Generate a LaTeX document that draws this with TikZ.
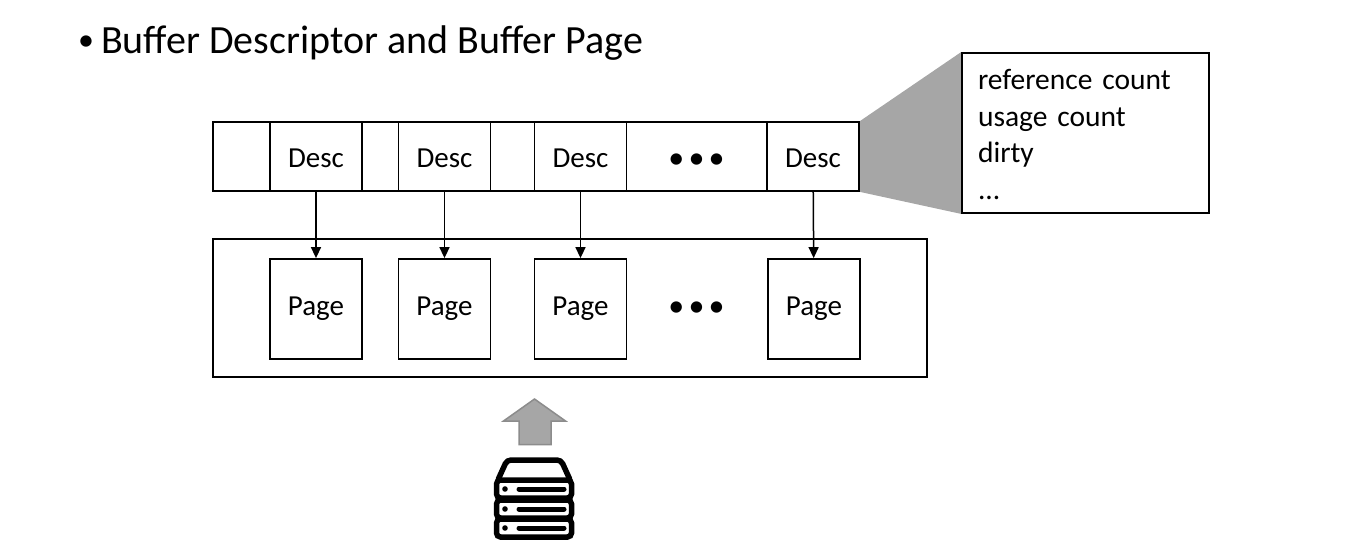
\documentclass[tikz,border=0pt]{standalone}
\usepackage{fontspec}
\setmainfont{Carlito}
\usetikzlibrary{backgrounds, arrows.meta}
\tikzstyle{barbox} = [rectangle, draw=black, line width=1.8pt, inner sep=0pt]
\tikzstyle{descbox} = [rectangle, minimum width=92pt, minimum height=69pt, inner sep=0pt, text centered, text height=22pt, text depth=0pt, draw=black, line width=1.8pt, fill=white, font=\fontsize{29}{34}\selectfont]
\tikzstyle{pagebox} = [descbox, minimum height=100pt, text height=18.5pt, text depth=5.5pt]
\tikzstyle{dotsnode} = [inner sep=0pt, font=\fontsize{32}{36}\selectfont]
\tikzstyle{arrow} = [line width=1.5pt,-{Stealth[length=11pt,width=10pt,inset=0pt]}]
\tikzstyle{rack} = [draw=black, line width=5.5pt, rounded corners=4pt, fill=white]
\tikzstyle{rackbar} = [draw=black, line width=5pt, line cap=round]

\begin{document}
\begin{tikzpicture}[x=1pt, y=-1pt]
                \useasboundingbox (0,0) rectangle (1346,554);
                % Title
                \node (title) [anchor=base west, inner sep=0pt, font=\fontsize{40}{46}\selectfont] at (78,53) {\makebox[23pt][l]{\raisebox{3pt}{\fontsize{32}{32}\selectfont•}}Buffer Descriptor and Buffer Page};

                % Nodes
                \node (descbar) [barbox, minimum width=646pt, minimum height=69pt] at (536,156.5) {};
                \node (pagebar) [barbox, minimum width=714pt, minimum height=138pt] at (570,308) {};
                \node (desca) [descbox] at (316,156.5) {Desc};
                \node (descb) [descbox] at (444.5,156.5) {Desc};
                \node (descc) [descbox] at (580.5,156.5) {Desc};
                \node (descd) [descbox] at (813,156.5) {Desc};
                \node (pagea) [pagebox] at (316,309) {Page};
                \node (pageb) [pagebox] at (444.5,309) {Page};
                \node (pagec) [pagebox] at (580.5,309) {Page};
                \node (paged) [pagebox] at (814,309) {Page};
                \node (dotsa) [dotsnode] at (696.5,161.5) {•\hspace{-3pt} •\hspace{-3pt} •};
                \node (dotsb) [dotsnode] at (696.5,309.5) {•\hspace{-3pt} •\hspace{-3pt} •};
                \node (detail) [barbox, minimum width=247pt, minimum height=160pt, text width=215pt, align=left, font=\fontsize{29.5}{36.5}\selectfont] at (1085.5,133) {\rule{0pt}{23pt}reference count\\usage count\\dirty\\...};

                % Arrows
                \draw [arrow] (desca) -- (pagea);
                \draw [arrow] (descb) -- (pageb);
                \draw [arrow] (descc) -- (pagec);
                \draw [arrow] (descd) -- (paged);

                % Zoom wedge and loading arrow
                \begin{pgfonlayer}{background}
                \fill [black!35] (descd.north east) -- (detail.north west) -- (detail.south west) -- (descd.south east) -- cycle;
                \end{pgfonlayer}
                \draw [draw=black!45, line width=1.5pt, fill=black!35] (534.5,399) -- (565.5,421) -- (551,421) -- (551,444.5) -- (519,444.5) -- (519,421) -- (503.5,421) -- cycle;

                % Server
                \draw [rack] (507,460) -- (561,460) -- (571,482) -- (497,482) -- cycle;
                \foreach \y in {489,509,528} {
                    \draw [rack] (496.5,\y-9) rectangle (571.5,\y+9);
                    \fill (505,\y) circle (2.8pt);
                    \draw [rackbar] (519,\y) -- (564,\y);
                }
            \end{tikzpicture}
\end{document}
